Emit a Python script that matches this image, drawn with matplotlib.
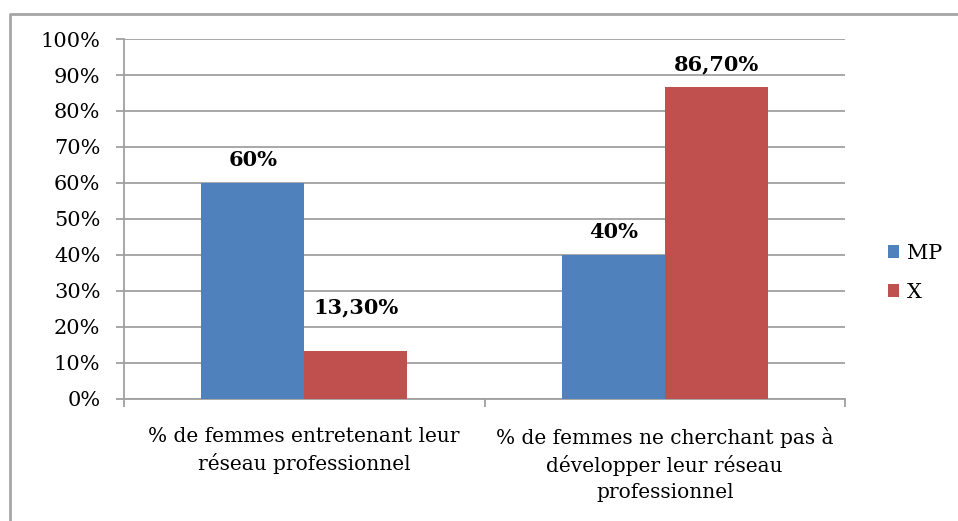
import matplotlib.pyplot as plt
from matplotlib.lines import Line2D
import numpy as np

plt.rcParams['font.family'] = ['DejaVu Serif']

categories = ["% de femmes entretenant leur\nréseau professionnel",
              "% de femmes ne cherchant pas à\ndévelopper leur réseau\nprofessionnel"]
series_names = ["MP", "X"]
mp_values = [60, 40]
x_values = [13.3, 86.7]
colors = ["#4F81BD", "#C0504D"]
grid_color = "#A0A0A0"


def pct_label(v):
    if float(v).is_integer():
        return f"{int(v)}%"
    return f"{v:.2f}%".replace(".", ",")


W, H = 958, 521
fig = plt.figure(figsize=(W / 100, H / 100), dpi=100)
ax = fig.add_axes([124 / W, 122 / H, 721 / W, 360 / H])

x = np.arange(len(categories))
w = 0.286
for i, (vals, name) in enumerate(zip([mp_values, x_values], series_names)):
    offs = (i - 0.5) * w
    bars = ax.bar(x + offs, vals, width=w, color=colors[i], label=name, zorder=3)
    for j, (b, v) in enumerate(zip(bars, vals)):
        # the short X bar in the first group has its label lifted higher
        dy = 24.5 if (i == 1 and j == 0) else 9
        ax.annotate(pct_label(v), (b.get_x() + b.get_width() / 2, v),
                    xytext=(0, dy), textcoords="offset points",
                    ha="center", va="bottom", fontsize=15, fontweight="bold")

ax.set_xlim(-0.5, len(categories) - 0.5)
ax.set_ylim(0, 100)
ax.set_yticks(np.arange(0, 101, 10))
ax.set_yticklabels([f"{t}%" for t in range(0, 101, 10)])
ax.yaxis.grid(True, color=grid_color, linewidth=1.3, zorder=0)
ax.tick_params(axis="y", length=6, width=1.3, color=grid_color, labelsize=15, pad=11)

ax.set_xticks(x)
ax.set_xticklabels(categories, fontsize=14.5, linespacing=1.45)
ax.set_xticks(np.arange(-0.5, len(categories), 1), minor=True)
ax.tick_params(axis="x", which="major", length=0, pad=20)
ax.tick_params(axis="x", which="minor", length=6, width=1.3, color=grid_color)

for side in ["top", "right"]:
    ax.spines[side].set_visible(False)
for side in ["left", "bottom"]:
    ax.spines[side].set_color(grid_color)
    ax.spines[side].set_linewidth(1.3)

fig.legend(loc="center left", bbox_to_anchor=(869 / W, 1 - 273 / H),
           frameon=False, fontsize=15, handlelength=0.55, handleheight=0.55,
           handletextpad=0.35, labelspacing=0.95)

# outer chart frame (left and top edges)
fig.add_artist(Line2D([10 / W, 10 / W, 1], [0, 1 - 14 / H, 1 - 14 / H],
                      transform=fig.transFigure, color="#A6A6A6", linewidth=2))

fig.savefig("out.png", dpi=100)
